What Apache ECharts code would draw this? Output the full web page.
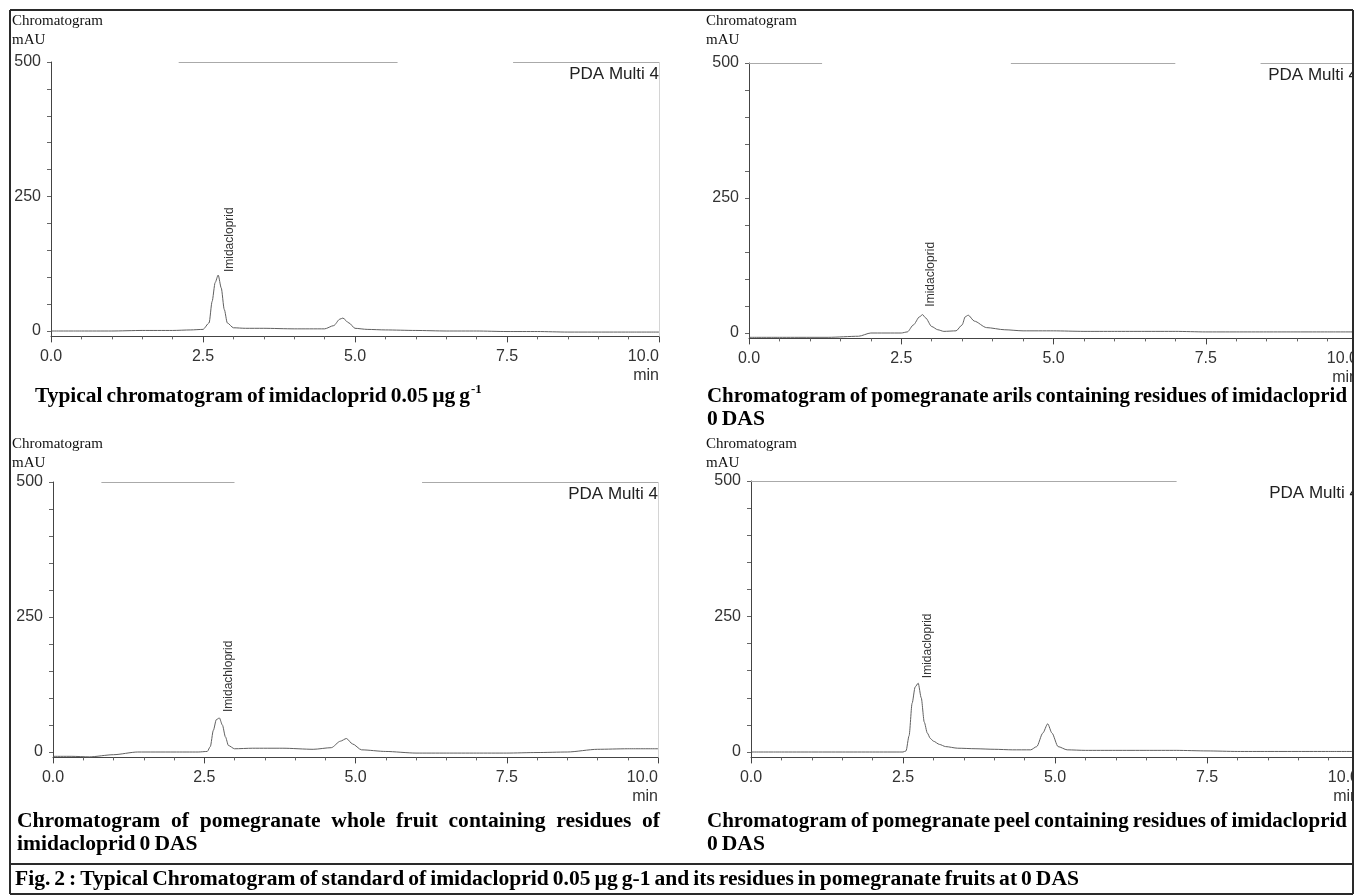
<!DOCTYPE html>
<html>
<head>
<meta charset="utf-8">
<script src="https://cdn.jsdelivr.net/npm/echarts@6/dist/echarts.min.js"></script>
<style>
html,body{margin:0;padding:0;background:#fff;}
#c{width:1356px;height:896px;}
</style>
</head>
<body>
<div id="c"></div>
<script>
// ---------------- DATA ----------------
const xLabelValues = [0, 2.5, 5, 7.5, 10];
const yLabelValues = [0, 250, 500];
const yTickValues = [0, 50, 100, 150, 200, 250, 300, 350, 400, 450, 500];

// Panel 1: standard imidacloprid 0.05 µg g-1
const stdTime = [0, 0.5, 1.0, 1.5, 2.0, 2.3, 2.5, 2.6, 2.65, 2.7, 2.75, 2.8, 2.85, 2.9, 3.0, 3.2, 3.5, 4.0, 4.5, 4.65, 4.75, 4.8, 4.9, 5.0, 5.2, 5.5, 6.0, 6.5, 7.0, 7.5, 8.0, 8.5, 9.0, 9.5, 10.0];
const stdMAU  = [0, 0, 0, 1, 1, 2, 3, 15, 55, 90, 104, 80, 40, 15, 6, 5, 5, 4, 4, 10, 22, 24, 15, 5, 3, 2, 1, 0, 0, -1, -1, -2, -2, -2, -2];

// Panel 2: pomegranate arils
const arilTime = [0, 0.5, 1.0, 1.3, 1.8, 2.0, 2.5, 2.6, 2.7, 2.8, 2.85, 2.9, 3.0, 3.1, 3.2, 3.4, 3.5, 3.55, 3.6, 3.7, 3.9, 4.2, 4.5, 5.0, 5.5, 6.0, 6.5, 7.0, 7.5, 8.0, 8.5, 9.0, 9.5, 10.0];
const arilMAU  = [-8, -8, -8, -8, -6, 0, 0, 2, 15, 30, 34, 28, 12, 6, 3, 4, 15, 30, 33, 22, 10, 6, 4, 4, 3, 3, 3, 3, 2, 2, 2, 2, 2, 2];

// Panel 3: pomegranate whole fruit
const wholeTime = [0, 0.3, 0.6, 1.0, 1.4, 2.0, 2.4, 2.55, 2.6, 2.65, 2.7, 2.75, 2.8, 2.85, 2.9, 3.0, 3.3, 3.8, 4.3, 4.6, 4.75, 4.85, 4.95, 5.1, 5.5, 6.0, 6.5, 7.0, 7.5, 8.0, 8.5, 9.0, 9.5, 10.0];
const wholeMAU  = [-8, -8, -9, -5, 0, 0, 0, 1, 10, 40, 60, 63, 50, 28, 12, 6, 7, 7, 5, 8, 20, 25, 15, 4, 1, -2, -2, -2, -2, -1, 0, 5, 6, 6];

// Panel 4: pomegranate peel
const peelTime = [0, 0.5, 1.0, 1.5, 2.0, 2.5, 2.55, 2.6, 2.65, 2.7, 2.75, 2.8, 2.85, 2.9, 2.95, 3.0, 3.1, 3.2, 3.4, 3.7, 4.0, 4.3, 4.6, 4.7, 4.8, 4.88, 4.95, 5.05, 5.2, 5.5, 6.0, 6.5, 7.0, 7.5, 8.0, 8.5, 9.0, 9.5, 10.0];
const peelMAU  = [0, 0, 0, 0, 0, 0, 2, 30, 90, 120, 127, 100, 55, 35, 25, 20, 14, 10, 7, 6, 5, 4, 4, 10, 35, 52, 35, 10, 4, 3, 3, 3, 3, 2, 1, 1, 1, 1, 1];

// retention time of the labelled peak in each panel
const labelledPeakTime = [2.75, 2.85, 2.75, 2.75];

// faint frame segments at the 500 mAU level (start, end in min)
const frame1 = [[2.1, 5.7], [7.6, 10]];
const frame2 = [[0, 1.2], [4.3, 7.0], [8.4, 10]];
const frame3 = [[0.8, 3.0], [6.1, 10]];
const frame4 = [[0, 7.0]];

const peakLabels = ['Imidacloprid', 'Imidacloprid', 'Imidachloprid', 'Imidacloprid'];
const headerTitle = 'Chromatogram';
const headerUnit = 'mAU';
const detectorLabel = 'PDA Multi 4';
const xUnit = 'min';

const caption1 = 'Typical chromatogram of imidacloprid 0.05 µg g';
const caption1Sup = '-1';
const caption2 = ['Chromatogram of pomegranate arils containing residues of imidacloprid', '0 DAS'];
const caption3 = ['Chromatogram of pomegranate whole fruit containing residues of', 'imidacloprid 0 DAS'];
const caption4 = ['Chromatogram of pomegranate peel containing residues of imidacloprid', '0 DAS'];
const figCaption = 'Fig. 2 : Typical Chromatogram of standard of imidacloprid 0.05 µg g-1 and its residues in pomegranate fruits at 0 DAS';

// ---------------- LAYOUT ----------------
const Y_MIN = -10, Y_MAX = 500;
const panels = [
  {left: 51,  right: 659,  top: 62,  zero: 331, t: stdTime,   v: stdMAU,   frame: frame1, lab: [11, -3], hx: 12,  hy: 21,  edge: true},
  {left: 749, right: 1358, top: 63,  zero: 333, t: arilTime,  v: arilMAU,  frame: frame2, lab: [8, -8],  hx: 706, hy: 21,  edge: false},
  {left: 53,  right: 658,  top: 482, zero: 752, t: wholeTime, v: wholeMAU, frame: frame3, lab: [9, -6],  hx: 12,  hy: 444, edge: true},
  {left: 751, right: 1359, top: 481, zero: 752, t: peelTime,  v: peelMAU,  frame: frame4, lab: [9, -5],  hx: 706, hy: 444, edge: false}
];

const SANS = '"Liberation Sans", Arial, sans-serif';
const SERIF = '"Liberation Serif", "Times New Roman", serif';

const mctx = document.createElement('canvas').getContext('2d');
function tw(text, font) { mctx.font = font; return mctx.measureText(text).width; }

// caption font: tall bold serif, condensed horizontally with tight word spacing
const CAP_PX = 20;
const WORD_GAP = 4;
const capFont = 'bold ' + CAP_PX + 'px ' + SERIF;
function wordsWidth(words) { return words.reduce((a, w) => a + tw(w, capFont), 0); }
const figWords = figCaption.split(' ');
const capScale = (1064 - WORD_GAP * (figWords.length - 1)) / wordsWidth(figWords);

const chart = echarts.init(document.getElementById('c'), null, {renderer: 'canvas'});

const grids = [], xAxes = [], yAxes = [], series = [], graphics = [];

panels.forEach((p, i) => {
  const h = (p.zero - p.top) * (Y_MAX - Y_MIN) / Y_MAX;
  grids.push({left: p.left, top: p.top, width: p.right - p.left, height: h, containLabel: false, outerBoundsMode: 'none'});
  xAxes.push({
    type: 'value', gridIndex: i, min: 0, max: 10, interval: 2.5,
    axisLine: {show: true, onZero: false, lineStyle: {color: '#444', width: 1}},
    axisTick: {show: true, length: 6, lineStyle: {color: '#444'}},
    minorTick: {show: true, splitNumber: 5, length: 3, lineStyle: {color: '#666'}},
    axisLabel: {
      customValues: xLabelValues,
      formatter: v => Number(v).toFixed(1),
      fontFamily: SANS, fontSize: 16, color: '#333', margin: 12,
      alignMaxLabel: 'right'
    },
    splitLine: {show: false}, minorSplitLine: {show: false}
  });
  yAxes.push({
    type: 'value', gridIndex: i, min: Y_MIN, max: Y_MAX,
    axisLine: {show: true, onZero: false, lineStyle: {color: '#444', width: 1}},
    axisTick: {show: true, customValues: yTickValues, length: 4, lineStyle: {color: '#666'}},
    axisLabel: {customValues: yLabelValues, fontFamily: SANS, fontSize: 16, color: '#333', margin: 10},
    splitLine: {show: false}
  });

  // labelled peak: highest point near the labelled retention time
  let iPk = -1;
  p.t.forEach((t, k) => {
    if (Math.abs(t - labelledPeakTime[i]) <= 0.2 && (iPk < 0 || p.v[k] > p.v[iPk])) iPk = k;
  });

  const ml = p.frame.map(s => [{coord: [s[0], Y_MAX]}, {coord: [s[1], Y_MAX]}]);
  if (p.edge) ml.push([{coord: [10, Y_MIN], lineStyle: {color: '#d4d4d4'}}, {coord: [10, Y_MAX]}]);

  series.push({
    type: 'line', xAxisIndex: i, yAxisIndex: i,
    data: p.t.map((t, k) => [t, p.v[k]]),
    showSymbol: false, symbol: 'none', smooth: 0.25, smoothMonotone: 'x',
    lineStyle: {color: '#606060', width: 1},
    silent: true, animation: false,
    markLine: {
      silent: true, symbol: ['none', 'none'], animation: false,
      label: {show: false},
      lineStyle: {color: '#aaa', type: 'solid', width: 1},
      data: ml
    },
    markPoint: {
      silent: true, animation: false,
      symbol: 'circle', symbolSize: 0,
      itemStyle: {color: 'rgba(0,0,0,0)'},
      label: {
        show: true, formatter: peakLabels[i], rotate: 90,
        position: p.lab, align: 'left', verticalAlign: 'middle',
        fontFamily: SANS, fontSize: 12, color: '#333'
      },
      data: [{coord: [p.t[iPk], p.v[iPk]]}]
    }
  });

  // headers
  graphics.push({type: 'text', x: p.hx, y: p.hy, z: 50, style: {text: headerTitle, font: '15px ' + SERIF, fill: '#111', align: 'left', verticalAlign: 'middle'}});
  graphics.push({type: 'text', x: p.hx, y: p.hy + 19, z: 50, style: {text: headerUnit, font: '15px ' + SERIF, fill: '#111', align: 'left', verticalAlign: 'middle'}});
  graphics.push({type: 'text', x: p.right, y: p.top + 12, z: 50, style: {text: detectorLabel, font: '17px ' + SANS, fill: '#222', align: 'right', verticalAlign: 'middle'}});
  const axisY = p.zero + (p.zero - p.top) * (-Y_MIN) / Y_MAX;
  graphics.push({type: 'text', x: p.right, y: axisY + 39, z: 50, style: {text: xUnit, font: '16px ' + SANS, fill: '#333', align: 'right', verticalAlign: 'middle'}});
});

function capWord(text, x, y, scale, font) {
  graphics.push({type: 'text', x: x, y: y, z: 50, scaleX: scale, style: {text: text, font: font || capFont, fill: '#000', align: 'left', verticalAlign: 'middle'}});
}
// mode 'plain': tight spacing with common scale; 'fit': tight spacing, scale fitted to x1; 'justify': common scale, gaps stretched to x1
function capLine(text, x0, y, mode, x1) {
  const words = text.split(' ');
  let scale = capScale, gap = WORD_GAP;
  if (mode === 'fit') scale = (x1 - x0 - WORD_GAP * (words.length - 1)) / wordsWidth(words);
  const widths = words.map(w => tw(w, capFont) * scale);
  if (mode === 'justify') gap = (x1 - x0 - widths.reduce((a, b) => a + b, 0)) / (words.length - 1);
  let x = x0;
  words.forEach((w, k) => { capWord(w, x, y, scale); x += widths[k] + (k < words.length - 1 ? gap : 0); });
  return {end: x, scale: scale};
}

// caption 1 with superscript
const c1 = capLine(caption1, 35, 397, 'fit', 470);
capWord(caption1Sup, c1.end + 1, 390, c1.scale, 'bold ' + Math.round(CAP_PX * 0.6) + 'px ' + SERIF);

capLine(caption2[0], 707, 397, 'fit', 1347);
capLine(caption2[1], 707, 420, 'plain');
capLine(caption3[0], 17, 822, 'justify', 660);
capLine(caption3[1], 17, 845, 'plain');
capLine(caption4[0], 707, 822, 'fit', 1347);
capLine(caption4[1], 707, 845, 'plain');
capLine(figCaption, 15, 880, 'plain');

// cover overflow right of the border, then borders
graphics.push({type: 'rect', z: 90, shape: {x: 1354, y: 0, width: 10, height: 896}, style: {fill: '#fff'}});
const B = '#2a2a2a';
[
  [10, 10, 1353, 10],
  [10, 10, 10, 894],
  [1353, 10, 1353, 894],
  [10, 864, 1353, 864],
  [10, 894, 1353, 894]
].forEach(l => graphics.push({type: 'line', z: 95, shape: {x1: l[0], y1: l[1], x2: l[2], y2: l[3]}, style: {stroke: B, lineWidth: 2}}));

chart.setOption({
  animation: false,
  backgroundColor: '#fff',
  grid: grids,
  xAxis: xAxes,
  yAxis: yAxes,
  series: series,
  graphic: {elements: graphics}
});
</script>
</body>
</html>
